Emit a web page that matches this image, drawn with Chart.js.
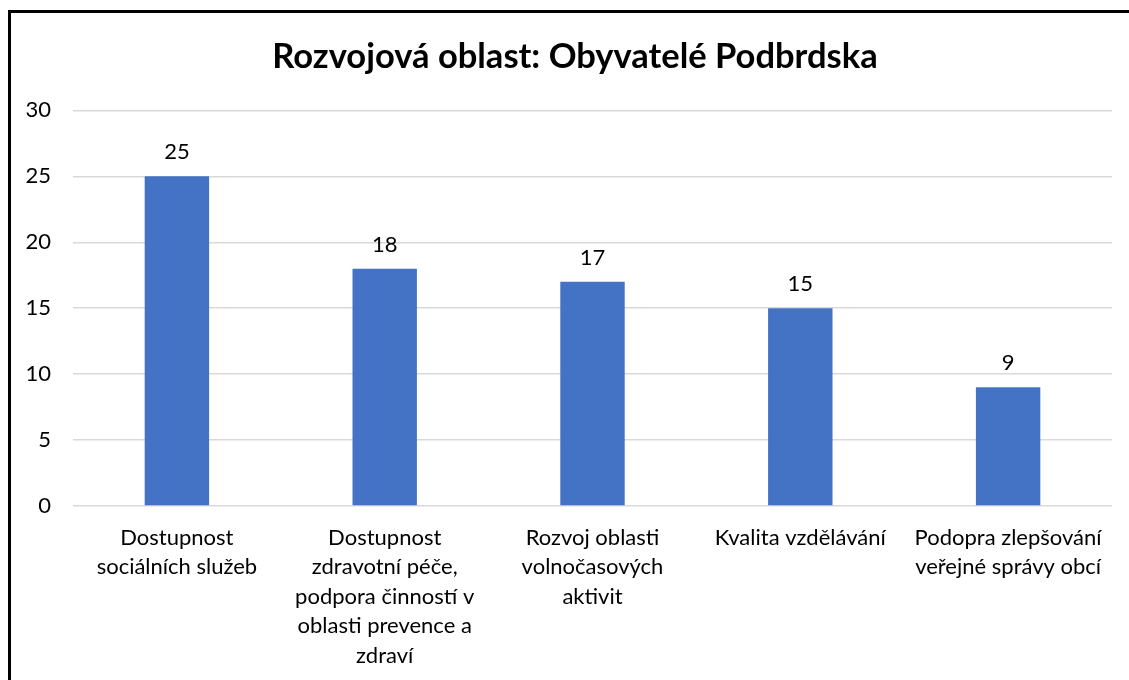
<!DOCTYPE html>
<html>
<head>
<meta charset="utf-8">
<script src="https://cdn.jsdelivr.net/npm/chart.js@4.4.1/dist/chart.umd.min.js"></script>
<style>
  html, body { margin: 0; padding: 0; background: #fff; }
  #wrap { position: relative; width: 1129px; height: 680px; overflow: hidden; }
  #frame { position: absolute; left: 8px; top: 10px; width: 1200px; height: 800px;
           border-left: 3px solid #000; border-top: 3px solid #000; box-sizing: border-box; }
  canvas { position: absolute; left: 0; top: 0; }
</style>
</head>
<body>
<div id="wrap">
  <div id="frame"></div>
  <canvas id="chart" width="1129" height="680"></canvas>
</div>
<script>
const categories = [
  ['Dostupnost', 'sociálních služeb'],
  ['Dostupnost', 'zdravotní péče,', 'podpora činností v', 'oblasti prevence a', 'zdraví'],
  ['Rozvoj oblasti', 'volnočasových', 'aktivit'],
  ['Kvalita vzdělávání'],
  ['Podopra zlepšování', 'veřejné správy obcí']
];
const values = [25, 18, 17, 15, 9];
const yTicks = [0, 5, 10, 15, 20, 25, 30];

const FONT = 'Lato, "Open Sans", sans-serif';

// draws the value above each bar
const valueLabels = {
  id: 'valueLabels',
  afterDatasetsDraw(chart) {
    const ctx = chart.ctx;
    const meta = chart.getDatasetMeta(0);
    ctx.save();
    ctx.font = '22px ' + FONT;
    ctx.fillStyle = '#000';
    ctx.textAlign = 'center';
    ctx.textBaseline = 'middle';
    meta.data.forEach((bar, i) => {
      ctx.fillText(String(values[i]), bar.x, bar.y - 24);
    });
    ctx.restore();
  }
};

// title in the original sits a bit right of the canvas centre
const shiftTitle = {
  id: 'shiftTitle',
  afterLayout(chart) {
    if (chart.titleBlock) chart.titleBlock.left = 38;
  }
};

new Chart(document.getElementById('chart').getContext('2d'), {
  type: 'bar',
  data: {
    labels: categories,
    datasets: [{
      data: values,
      backgroundColor: '#4472C4',
      barPercentage: 0.31,
      categoryPercentage: 1
    }]
  },
  options: {
    responsive: false,
    animation: false,
    layout: { padding: { left: 0, right: 17, bottom: 0 } },
    plugins: {
      legend: { display: false },
      tooltip: { enabled: false },
      title: {
        display: true,
        text: 'Rozvojová oblast: Obyvatelé Podbrdska',
        color: '#000',
        font: { family: FONT, size: 34.5, weight: 'bold', lineHeight: 1.2 },
        padding: { top: 36, bottom: 33 }
      }
    },
    scales: {
      y: {
        min: 0,
        max: 30,
        afterBuildTicks: axis => { axis.ticks = yTicks.map(v => ({ value: v })); },
        afterFit: axis => { axis.width = 73; },
        border: { display: false },
        grid: { color: '#d9d9d9', lineWidth: 1.5, drawTicks: false },
        ticks: { color: '#000', padding: 22, font: { family: FONT, size: 22 } }
      },
      x: {
        afterFit: axis => { axis.height = 174; },
        border: { display: false },
        grid: { display: false, drawTicks: false },
        ticks: {
          color: '#000',
          padding: 17,
          maxRotation: 0,
          autoSkip: false,
          font: { family: FONT, size: 22, lineHeight: 1.34 }
        }
      }
    }
  },
  plugins: [valueLabels, shiftTitle]
});
</script>
</body>
</html>
